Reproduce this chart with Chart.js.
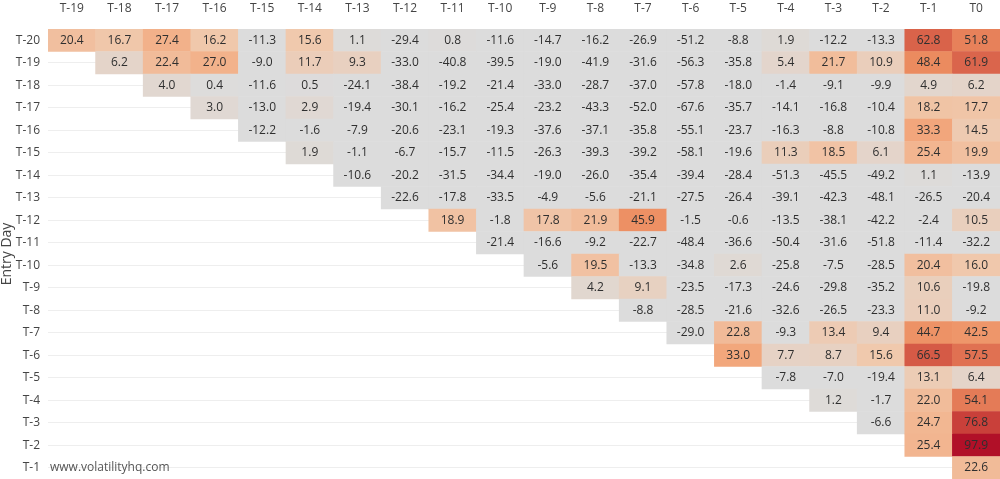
<!DOCTYPE html>
<html>
<head>
<meta charset="utf-8">
<script src="https://cdn.jsdelivr.net/npm/chart.js@4.4.1/dist/chart.umd.min.js"></script>
<style>
html,body{margin:0;padding:0;background:#fff;overflow:hidden;}
canvas{display:block;}
</style>
</head>
<body>
<canvas id="c" width="1000" height="479" style="width:1000px;height:479px;"></canvas>
<script>
const rowLabels = ['T-20','T-19','T-18','T-17','T-16','T-15','T-14','T-13','T-12','T-11','T-10','T-9','T-8','T-7','T-6','T-5','T-4','T-3','T-2','T-1'];
const colLabels = ['T-19','T-18','T-17','T-16','T-15','T-14','T-13','T-12','T-11','T-10','T-9','T-8','T-7','T-6','T-5','T-4','T-3','T-2','T-1','T0'];

const rowT20 = [20.4,16.7,27.4,16.2,-11.3,15.6,1.1,-29.4,0.8,-11.6,-14.7,-16.2,-26.9,-51.2,-8.8,1.9,-12.2,-13.3,62.8,51.8];
const rowT19 = [6.2,22.4,27.0,-9.0,11.7,9.3,-33.0,-40.8,-39.5,-19.0,-41.9,-31.6,-56.3,-35.8,5.4,21.7,10.9,48.4,61.9];
const rowT18 = [4.0,0.4,-11.6,0.5,-24.1,-38.4,-19.2,-21.4,-33.0,-28.7,-37.0,-57.8,-18.0,-1.4,-9.1,-9.9,4.9,6.2];
const rowT17 = [3.0,-13.0,2.9,-19.4,-30.1,-16.2,-25.4,-23.2,-43.3,-52.0,-67.6,-35.7,-14.1,-16.8,-10.4,18.2,17.7];
const rowT16 = [-12.2,-1.6,-7.9,-20.6,-23.1,-19.3,-37.6,-37.1,-35.8,-55.1,-23.7,-16.3,-8.8,-10.8,33.3,14.5];
const rowT15 = [1.9,-1.1,-6.7,-15.7,-11.5,-26.3,-39.3,-39.2,-58.1,-19.6,11.3,18.5,6.1,25.4,19.9];
const rowT14 = [-10.6,-20.2,-31.5,-34.4,-19.0,-26.0,-35.4,-39.4,-28.4,-51.3,-45.5,-49.2,1.1,-13.9];
const rowT13 = [-22.6,-17.8,-33.5,-4.9,-5.6,-21.1,-27.5,-26.4,-39.1,-42.3,-48.1,-26.5,-20.4];
const rowT12 = [18.9,-1.8,17.8,21.9,45.9,-1.5,-0.6,-13.5,-38.1,-42.2,-2.4,10.5];
const rowT11 = [-21.4,-16.6,-9.2,-22.7,-48.4,-36.6,-50.4,-31.6,-51.8,-11.4,-32.2];
const rowT10 = [-5.6,19.5,-13.3,-34.8,2.6,-25.8,-7.5,-28.5,20.4,16.0];
const rowT9  = [4.2,9.1,-23.5,-17.3,-24.6,-29.8,-35.2,10.6,-19.8];
const rowT8  = [-8.8,-28.5,-21.6,-32.6,-26.5,-23.3,11.0,-9.2];
const rowT7  = [-29.0,22.8,-9.3,13.4,9.4,44.7,42.5];
const rowT6  = [33.0,7.7,8.7,15.6,66.5,57.5];
const rowT5  = [-7.8,-7.0,-19.4,13.1,6.4];
const rowT4  = [1.2,-1.7,22.0,54.1];
const rowT3  = [-6.6,24.7,76.8];
const rowT2  = [25.4,97.9];
const rowT1  = [22.6];

const rows = [rowT20,rowT19,rowT18,rowT17,rowT16,rowT15,rowT14,rowT13,rowT12,rowT11,rowT10,rowT9,rowT8,rowT7,rowT6,rowT5,rowT4,rowT3,rowT2,rowT1];

// colour stops (value -> rgb)
const stops = [[0,[220,220,220]],[16,[240,200,172]],[30,[243,172,130]],[48,[236,140,96]],[63,[217,98,74]],[77,[201,64,58]],[98,[177,16,40]]];
function colorFor(v){
  if (v <= stops[0][0]) return 'rgb(220,220,220)';
  for (let i=1;i<stops.length;i++){
    if (v <= stops[i][0]){
      const [a,ca] = stops[i-1], [b,cb] = stops[i];
      const t = (v-a)/(b-a);
      const c = ca.map((x,k)=>Math.round(x+(cb[k]-x)*t));
      return `rgb(${c[0]},${c[1]},${c[2]})`;
    }
  }
  const c = stops[stops.length-1][1];
  return `rgb(${c[0]},${c[1]},${c[2]})`;
}

const cells = [];
rows.forEach((vals, r) => {
  vals.forEach((v, k) => {
    const c = r + k; // row r begins at column r
    cells.push({x:[c-0.5, c+0.5], y: rowLabels[r], v: v});
  });
});

Chart.defaults.font.family = "'Open Sans', sans-serif";
Chart.defaults.font.size = 12;
Chart.defaults.color = '#444';

const labelPlugin = {
  id: 'cellLabels',
  afterDatasetsDraw(chart){
    const ctx = chart.ctx;
    const meta = chart.getDatasetMeta(0);
    ctx.save();
    ctx.font = "12px 'Open Sans', sans-serif";
    ctx.fillStyle = '#2f2f2f';
    ctx.textAlign = 'center';
    ctx.textBaseline = 'middle';
    meta.data.forEach((el, i) => {
      const p = el.getCenterPoint();
      ctx.fillText(cells[i].v.toFixed(1), p.x, p.y);
    });
    // watermark
    ctx.textAlign = 'left';
    ctx.textBaseline = 'middle';
    ctx.fillStyle = '#555';
    ctx.font = "12px 'Open Sans', sans-serif";
    const yS = chart.scales.y;
    ctx.fillText('www.volatilityhq.com', chart.chartArea.left + 2, yS.getPixelForValue(rowLabels.length-1));
    ctx.restore();
  }
};

new Chart(document.getElementById('c'), {
  type: 'bar',
  data: {
    labels: rowLabels,
    datasets: [{
      data: cells,
      backgroundColor: cells.map(d => colorFor(d.v)),
      borderWidth: 0,
      barPercentage: 1,
      categoryPercentage: 1,
      grouped: false
    }]
  },
  options: {
    indexAxis: 'y',
    responsive: false,
    devicePixelRatio: 1,
    animation: false,
    layout: {padding: 0, autoPadding: false},
    plugins: {legend: {display: false}, tooltip: {enabled: false}},
    scales: {
      x: {
        type: 'linear',
        position: 'top',
        min: -0.5,
        max: colLabels.length - 0.5,
        grid: {display: false},
        border: {display: false},
        afterBuildTicks(scale){ scale.ticks = colLabels.map((_, i) => ({value: i})); },
        afterFit(scale){ scale.height = 29; scale.paddingLeft = 0; scale.paddingRight = 0; },
        ticks: {
          autoSkip: false,
          maxRotation: 0,
          padding: 5,
          color: '#444',
          callback: (v) => colLabels[v]
        }
      },
      y: {
        type: 'category',
        grid: {color: '#eeeeee', drawTicks: false, lineWidth: 1, offset: false},
        border: {display: false},
        afterFit(scale){ scale.width = 48; scale.paddingTop = 0; scale.paddingBottom = 0; },
        ticks: {padding: 8, color: '#444', autoSkip: false},
        title: {display: true, text: 'Entry Day', color: '#444', font: {size: 14, lineHeight: 1}, padding: 0}
      }
    }
  },
  plugins: [labelPlugin]
});
</script>
</body>
</html>
